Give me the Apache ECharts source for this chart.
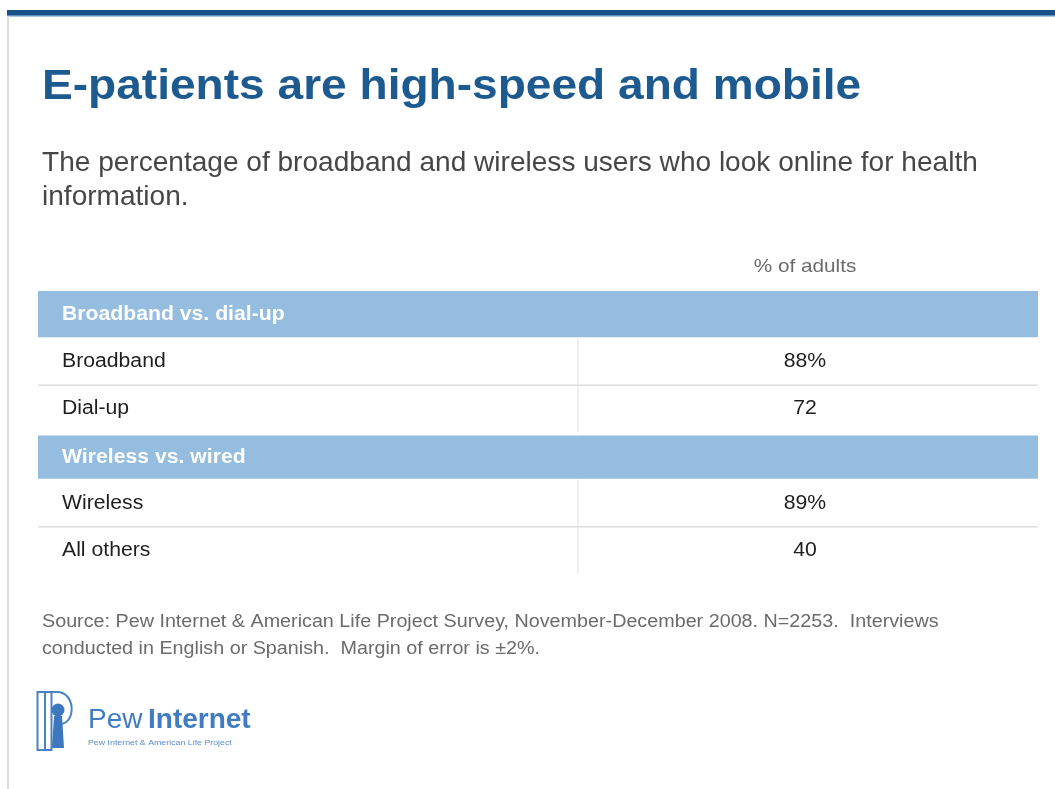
<!DOCTYPE html>
<html>
<head>
<meta charset="utf-8">
<style>
  html, body { margin: 0; padding: 0; background: #ffffff; }
  #chart { width: 1055px; height: 789px; }
</style>
<script src="https://cdn.jsdelivr.net/npm/echarts@6/dist/echarts.min.js"></script>
</head>
<body>
<div id="chart"></div>
<script>
// Table rows: group headers and their member rows
const rowLabels = ['Broadband vs. dial-up', 'Broadband', 'Dial-up', 'Wireless vs. wired', 'Wireless', 'All others'];
const rowKinds = ['group', 'item', 'item', 'group', 'item', 'item'];
const rowValues = [null, 88, 72, null, 89, 40];
const columnHeader = '% of adults';

const titleText = 'E-patients are high-speed and mobile';
const subtitleText = 'The percentage of broadband and wireless users who look online for health\ninformation.';
const sourceText = 'Source: Pew Internet & American Life Project Survey, November-December 2008. N=2253.  Interviews\nconducted in English or Spanish.  Margin of error is \u00b12%.';

const FONT = '"Liberation Sans", Arial, Helvetica, sans-serif';
const HEADER_FILL = '#94bde0';
const RULE = '#dedede';
const TEXT_STRETCH = 1.06;  // slight horizontal stretch of table text
const SPLIT_X = 0.54;       // divider between label and value columns (fraction of width)
const VALUE_X = 0.767;      // centre of value column

// Value text: the first item in each group carries the percent sign
function valueText(i) {
  const v = rowValues[i];
  if (v == null) return '';
  return rowKinds[i - 1] === 'group' ? v + '%' : String(v);
}

const chart = echarts.init(document.getElementById('chart'), null, { renderer: 'canvas' });

function renderRow(params, api) {
  const i = api.value(0);
  const kind = rowKinds[i];
  const p0 = api.coord([0, i]);
  const p1 = api.coord([1, i]);
  const bandH = api.size([0, 1])[1];
  const left = p0[0], right = p1[0], width = right - left;
  const top = p0[1] - bandH / 2;
  const cy = p0[1];
  const children = [];

  if (kind === 'group') {
    const gapTop = i > 0 ? 3 : 0;
    children.push({
      type: 'rect',
      shape: { x: left, y: top + gapTop, width: width, height: bandH - gapTop - 1 },
      style: { fill: HEADER_FILL }
    });
    children.push({
      type: 'text',
      x: left + 24, y: cy + gapTop / 2, scaleX: TEXT_STRETCH,
      style: {
        x: 0, y: 0, text: rowLabels[i],
        fill: '#ffffff', font: 'bold 20px ' + FONT,
        align: 'left', verticalAlign: 'middle'
      }
    });
  } else {
    children.push({
      type: 'text',
      x: left + 24, y: cy, scaleX: TEXT_STRETCH,
      style: {
        x: 0, y: 0, text: rowLabels[i],
        fill: '#1e1e1e', font: '20px ' + FONT,
        align: 'left', verticalAlign: 'middle'
      }
    });
    children.push({
      type: 'text',
      x: left + width * VALUE_X, y: cy, scaleX: TEXT_STRETCH,
      style: {
        x: 0, y: 0, text: valueText(i),
        fill: '#1e1e1e', font: '20px ' + FONT,
        align: 'center', verticalAlign: 'middle'
      }
    });
    // column divider
    children.push({
      type: 'line',
      shape: { x1: left + width * SPLIT_X, y1: top, x2: left + width * SPLIT_X, y2: top + bandH },
      style: { stroke: RULE, lineWidth: 1 }
    });
    // rule below row when another item follows in the same group
    if (rowKinds[i + 1] === 'item') {
      children.push({
        type: 'line',
        shape: { x1: left, y1: top + bandH, x2: right, y2: top + bandH },
        style: { stroke: RULE, lineWidth: 1.5 }
      });
    }
  }
  return { type: 'group', children: children };
}

const LOGO = '#4a82c4';

const option = {
  backgroundColor: '#ffffff',
  animation: false,
  grid: { left: 38, right: 17, top: 291, bottom: 215 },
  xAxis: { type: 'value', min: 0, max: 1, show: false },
  yAxis: { type: 'category', data: rowLabels, inverse: true, show: false },
  series: [{
    type: 'custom',
    renderItem: renderRow,
    data: rowLabels.map(function (_, i) { return [i]; }),
    encode: { y: 0 },
    silent: true
  }],
  graphic: [
    // top band and left edge
    { type: 'rect', shape: { x: 7, y: 10, width: 1048, height: 5 }, style: { fill: '#195089' } },
    { type: 'rect', shape: { x: 7, y: 15, width: 1048, height: 1.5 }, style: { fill: '#5b8fc2' } },
    { type: 'rect', shape: { x: 7, y: 16, width: 2, height: 773 }, style: { fill: '#dcdcdc' } },
    // headings
    { type: 'text', x: 42, y: 87, scaleX: 1.097,
      style: { x: 0, y: 0, text: titleText, fill: '#1d5a8f', font: 'bold 42px ' + FONT, verticalAlign: 'middle' } },
    { type: 'text', x: 42, y: 146, scaleX: 1.002,
      style: { x: 0, y: 0, text: subtitleText, fill: '#474747', font: '28px ' + FONT, lineHeight: 34, verticalAlign: 'top' } },
    { type: 'text', x: 805, y: 267, scaleX: 1.12,
      style: { x: 0, y: 0, text: columnHeader, fill: '#6b6b6b', font: '18.5px ' + FONT, align: 'center', verticalAlign: 'middle' } },
    // source note
    { type: 'text', x: 42, y: 609, scaleX: 1.128,
      style: { x: 0, y: 0, text: sourceText, fill: '#6b6b6b', font: '17.5px ' + FONT, lineHeight: 26.5, verticalAlign: 'top' } },
    // logo mark
    { type: 'rect', shape: { x: 37.5, y: 692, width: 14, height: 58 }, style: { fill: 'none', stroke: LOGO, lineWidth: 2 } },
    { type: 'polyline', shape: { points: [[45, 750], [45, 692], [57, 692]] }, style: { fill: 'none', stroke: LOGO, lineWidth: 2 } },
    { type: 'bezierCurve', shape: { x1: 57, y1: 692, cpx1: 76, cpy1: 692, cpx2: 76, cpy2: 724, x2: 60, y2: 724 }, style: { fill: 'none', stroke: LOGO, lineWidth: 2 } },
    { type: 'circle', shape: { cx: 58, cy: 710, r: 6.5 }, style: { fill: '#3d77bd' } },
    { type: 'polygon', shape: { points: [[54, 716], [62, 716], [64, 748], [52, 748]] }, style: { fill: '#3d77bd' } },
    // logo wordmark
    { type: 'text', x: 88, y: 720, scaleX: 1.0,
      style: { x: 0, y: 0, text: 'Pew', fill: '#3f7cc1', font: '28px ' + FONT, verticalAlign: 'middle' } },
    { type: 'text', x: 148, y: 720, scaleX: 1.0,
      style: { x: 0, y: 0, text: 'Internet', fill: '#3f7cc1', font: 'bold 28px ' + FONT, verticalAlign: 'middle' } },
    { type: 'text', x: 88, y: 743, scaleX: 1.1,
      style: { x: 0, y: 0, text: 'Pew Internet & American Life Project', fill: '#5b8cc8', font: '8px ' + FONT, verticalAlign: 'middle' } }
  ]
};

chart.setOption(option);
</script>
</body>
</html>
